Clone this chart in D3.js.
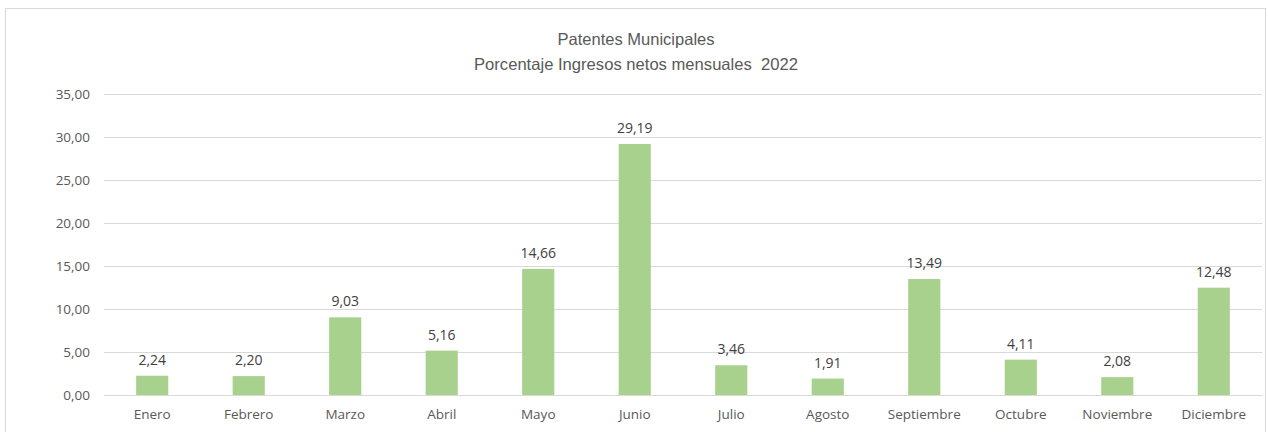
<!DOCTYPE html>
<html><head><meta charset="utf-8">
<script src="https://cdn.jsdelivr.net/npm/d3@7"></script>
<style>body{margin:0;background:#fff;overflow:hidden}svg{display:block}</style>
</head><body>
<script>
const months = ["Enero","Febrero","Marzo","Abril","Mayo","Junio","Julio","Agosto","Septiembre","Octubre","Noviembre","Diciembre"];
const values = [2.24,2.20,9.03,5.16,14.66,29.19,3.46,1.91,13.49,4.11,2.08,12.48];
const yTicks = [0,5,10,15,20,25,30,35];
const titleLines = ["Patentes Municipales","Porcentaje Ingresos netos mensuales  2022"];

const W=1268,H=432;
const svg=d3.select("body").append("svg").attr("width",W).attr("height",H);
svg.append("rect").attr("x",5.5).attr("y",8.5).attr("width",1260).attr("height",440)
  .attr("fill","#fff").attr("stroke","#d9d9d9").attr("stroke-width",1);

const x=d3.scaleBand().domain(months).range([104,1262]).paddingInner(0.667).paddingOuter(0.333);
const y=d3.scaleLinear().domain([0,35]).range([395,94]);
const fmt=v=>d3.format(".2f")(v).replace(".",",");
const font="'Open Sans',sans-serif";

const yAxis=svg.append("g").attr("transform","translate(104,0)")
  .call(d3.axisLeft(y).tickValues(yTicks).tickSize(-1158).tickFormat(fmt).tickPadding(14));
yAxis.select(".domain").remove();
yAxis.selectAll("line").attr("stroke","#d9d9d9");
yAxis.selectAll("text").attr("fill","#595959").style("font-family",font).style("font-size","13.5px");

svg.append("g").selectAll("rect").data(values).join("rect")
  .attr("x",(d,i)=>x(months[i])).attr("width",x.bandwidth())
  .attr("y",d=>y(d)).attr("height",d=>y(0)-y(d)).attr("fill","#a9d18e");

svg.append("g").selectAll("text").data(values).join("text")
  .attr("x",(d,i)=>x(months[i])+x.bandwidth()/2).attr("y",d=>y(d)-11)
  .attr("text-anchor","middle").attr("fill","#404040")
  .style("font-family",font).style("font-size","14px").text(fmt);

const xAxis=svg.append("g").attr("transform","translate(0,395)")
  .call(d3.axisBottom(x).tickSize(0).tickPadding(14));
xAxis.select(".domain").attr("stroke","#d9d9d9");
xAxis.selectAll("text").attr("fill","#595959").style("font-family",font).style("font-size","13.5px");

svg.append("g").selectAll("text").data(titleLines).join("text")
  .attr("x",636).attr("y",(d,i)=>45+i*25).attr("text-anchor","middle").attr("fill","#595959")
  .style("white-space","pre")
  .style("font-family","'Liberation Sans',sans-serif").style("font-size","16.5px")
  .attr("textLength",(d,i)=>i===0?157:324).attr("lengthAdjust","spacingAndGlyphs").text(d=>d);
</script>
</body></html>
